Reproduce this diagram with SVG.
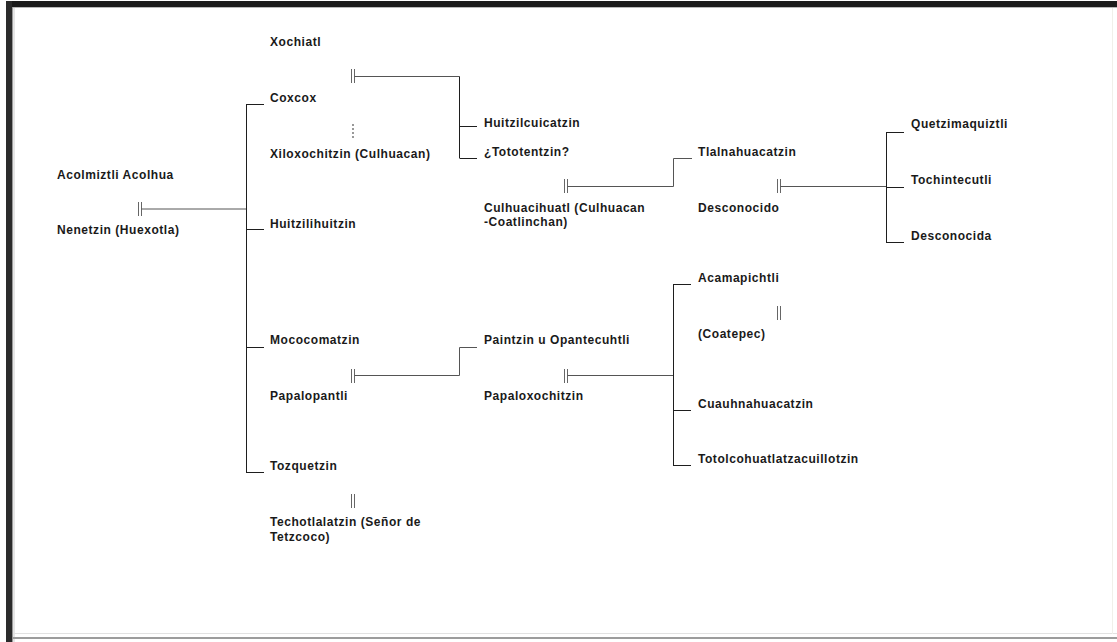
<svg xmlns="http://www.w3.org/2000/svg" width="1117" height="642" viewBox="0 0 1117 642">
  <style>
    .name { font-family: "Liberation Sans", Arial, sans-serif; font-weight: bold; font-size: 12px; letter-spacing: 0.55px; fill: #1a1a1a; }
    .tree { fill: none; stroke: #1e1e1e; stroke-width: 1; }
    .union { fill: none; stroke: #555; stroke-width: 1; }
    .bar { fill: none; stroke: #666; stroke-width: 1; }
    .dots { fill: none; stroke: #555; stroke-width: 1.2; stroke-dasharray: 2 2; }
  </style>
  <defs>
    <!-- double vertical bar marking a couple -->
    <g id="pair-bar">
      <line class="bar" x1="-1.5" y1="-7" x2="-1.5" y2="7"/>
      <line class="bar" x1="1.5" y1="-7" x2="1.5" y2="7"/>
    </g>
  </defs>

  <!-- page and panel frame -->
  <rect x="0" y="0" width="1117" height="642" fill="#ffffff"/>
  <rect x="6" y="1" width="1111" height="6" fill="#1b1b1b"/>
  <rect x="6" y="7" width="1111" height="1" fill="#b8b8b8"/>
  <rect x="6" y="1" width="6" height="641" fill="#2b2b2b"/>
  <rect x="12" y="7" width="1" height="635" fill="#9a9a9a"/>
  <rect x="13" y="8" width="2" height="634" fill="#e6e6e6"/>
  <rect x="13" y="633" width="1104" height="1" fill="#e2e2e2"/>
  <rect x="13" y="637" width="1104" height="2" fill="#9c9c9c"/>
  <rect x="1112" y="8" width="1" height="626" fill="#f0f0ea"/>

  <!-- connectors -->
  <g id="connectors">
    <!-- Acolmiztli Acolhua + Nenetzin -->
    <use href="#pair-bar" x="140" y="209"/>
    <line class="union" x1="141.5" y1="209" x2="246" y2="209"/>
    <line class="tree" x1="246.5" y1="104" x2="246.5" y2="473"/>
    <line class="tree" x1="246.5" y1="104.5" x2="264" y2="104.5"/>
    <line class="tree" x1="246.5" y1="229.5" x2="264" y2="229.5"/>
    <line class="tree" x1="246.5" y1="347.5" x2="264" y2="347.5"/>
    <line class="tree" x1="246.5" y1="472.5" x2="264" y2="472.5"/>

    <!-- Xochiatl + Coxcox -->
    <use href="#pair-bar" x="353" y="76"/>
    <line class="union" x1="354.5" y1="76.5" x2="459.5" y2="76.5"/>
    <line class="tree" x1="459.5" y1="76.5" x2="459.5" y2="158"/>
    <line class="tree" x1="459.5" y1="126.5" x2="477" y2="126.5"/>
    <line class="tree" x1="459.5" y1="158.5" x2="477" y2="158.5"/>

    <!-- Coxcox ... Xiloxochitzin -->
    <line class="dots" x1="353" y1="124" x2="353" y2="138"/>

    <!-- Culhuacihuatl + Tlalnahuacatzin -->
    <use href="#pair-bar" x="566" y="186"/>
    <polyline class="union" points="567.5,186.5 673.5,186.5 673.5,158.5 692,158.5"/>

    <!-- Desconocido + Tochintecutli -->
    <use href="#pair-bar" x="779" y="186"/>
    <line class="union" x1="780.5" y1="186.5" x2="886.5" y2="186.5"/>
    <line class="tree" x1="886.5" y1="132" x2="886.5" y2="243"/>
    <line class="tree" x1="886.5" y1="132.5" x2="904" y2="132.5"/>
    <line class="tree" x1="886.5" y1="187.5" x2="904" y2="187.5"/>
    <line class="tree" x1="886.5" y1="242.5" x2="904" y2="242.5"/>

    <!-- Papalopantli + Paintzin u Opantecuhtli -->
    <use href="#pair-bar" x="353" y="376"/>
    <polyline class="union" points="354.5,375.5 459.5,375.5 459.5,347.5 477,347.5"/>

    <!-- Papaloxochitzin + Acamapichtli -->
    <use href="#pair-bar" x="566" y="376"/>
    <line class="union" x1="567.5" y1="375.5" x2="674" y2="375.5"/>
    <line class="tree" x1="673.5" y1="284" x2="673.5" y2="466"/>
    <line class="tree" x1="673.5" y1="284.5" x2="691" y2="284.5"/>
    <line class="tree" x1="673.5" y1="410.5" x2="691" y2="410.5"/>
    <line class="tree" x1="673.5" y1="465.5" x2="691" y2="465.5"/>

    <!-- Acamapichtli + (Coatepec) -->
    <use href="#pair-bar" x="779" y="313"/>

    <!-- Tozquetzin + Techotlalatzin -->
    <use href="#pair-bar" x="353" y="501"/>
  </g>

  <!-- people -->
  <g id="acolmiztli"><text class="name" x="57" y="179">Acolmiztli Acolhua</text></g>
  <g id="nenetzin"><text class="name" x="57" y="234">Nenetzin (Huexotla)</text></g>

  <g id="xochiatl"><text class="name" x="270" y="46">Xochiatl</text></g>
  <g id="coxcox"><text class="name" x="270" y="102">Coxcox</text></g>
  <g id="xiloxochitzin"><text class="name" x="270" y="158">Xiloxochitzin (Culhuacan)</text></g>
  <g id="huitzilihuitzin"><text class="name" x="270" y="228">Huitzilihuitzin</text></g>
  <g id="mococomatzin"><text class="name" x="270" y="344">Mococomatzin</text></g>
  <g id="papalopantli"><text class="name" x="270" y="400">Papalopantli</text></g>
  <g id="tozquetzin"><text class="name" x="270" y="470">Tozquetzin</text></g>
  <g id="techotlalatzin"><text class="name" x="270" y="526">Techotlalatzin (Señor de<tspan x="270" y="541">Tetzcoco)</tspan></text></g>

  <g id="huitzilcuicatzin"><text class="name" x="484" y="127">Huitzilcuicatzin</text></g>
  <g id="tototentzin"><text class="name" x="484" y="156">¿Tototentzin?</text></g>
  <g id="culhuacihuatl"><text class="name" x="484" y="212">Culhuacihuatl (Culhuacan<tspan x="484" y="226">-Coatlinchan)</tspan></text></g>
  <g id="paintzin"><text class="name" x="484" y="344">Paintzin u Opantecuhtli</text></g>
  <g id="papaloxochitzin"><text class="name" x="484" y="400">Papaloxochitzin</text></g>

  <g id="tlalnahuacatzin"><text class="name" x="698" y="156">Tlalnahuacatzin</text></g>
  <g id="desconocido"><text class="name" x="698" y="212">Desconocido</text></g>
  <g id="acamapichtli"><text class="name" x="698" y="282">Acamapichtli</text></g>
  <g id="coatepec"><text class="name" x="698" y="338">(Coatepec)</text></g>
  <g id="cuauhnahuacatzin"><text class="name" x="698" y="408">Cuauhnahuacatzin</text></g>
  <g id="totolcohuatlatzacuillotzin"><text class="name" x="698" y="463">Totolcohuatlatzacuillotzin</text></g>

  <g id="quetzimaquiztli"><text class="name" x="911" y="128">Quetzimaquiztli</text></g>
  <g id="tochintecutli"><text class="name" x="911" y="184">Tochintecutli</text></g>
  <g id="desconocida"><text class="name" x="911" y="240">Desconocida</text></g>
</svg>
